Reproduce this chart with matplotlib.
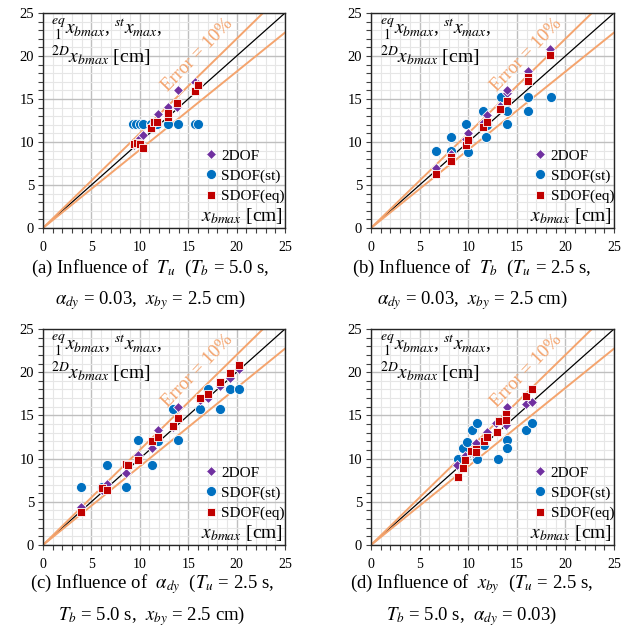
import matplotlib
matplotlib.use("Agg")
import matplotlib.pyplot as plt
from matplotlib.ticker import MultipleLocator
import numpy as np

plt.rcParams['font.family'] = ['Liberation Serif', 'DejaVu Serif']
plt.rcParams['mathtext.fontset'] = 'stix'

# ---------------- data ----------------
# Panel (a): influence of T_u
a_2dof_x = [9.35, 9.7, 10.03, 10.38, 11.16, 11.5, 11.9, 12.95, 13.8, 13.97, 15.68, 16.03]
a_2dof_y = [9.65, 10.04, 10.43, 10.81, 11.9, 12.2, 13.3, 14.1, 14.1, 16.0, 17.0, 16.8]
a_st_x = [9.28, 9.62, 10.03, 10.38, 11.16, 11.82, 12.95, 13.97, 15.68, 16.03]
a_st_y = [12.1, 12.1, 12.1, 12.1, 12.1, 12.1, 12.1, 12.1, 12.1, 12.1]
a_eq_x = [9.35, 9.7, 10.03, 10.38, 11.16, 11.5, 11.82, 12.95, 12.95, 13.87, 15.68, 16.03]
a_eq_y = [9.77, 9.92, 9.77, 9.34, 11.67, 12.36, 12.36, 12.87, 13.41, 14.57, 15.97, 16.63]

# Panel (b): influence of T_b
b_2dof_x = [6.66, 8.23, 9.74, 10.01, 11.52, 11.97, 13.31, 13.96, 13.96, 16.12, 16.12, 18.41]
b_2dof_y = [7.02, 8.6, 10.3, 11.0, 12.2, 13.14, 14.2, 15.66, 16.05, 17.98, 18.3, 20.78]
b_st_x = [6.66, 8.23, 8.23, 9.74, 10.0, 10.0, 11.52, 11.8, 11.9, 13.38, 13.96, 13.96, 16.12, 16.12, 18.52]
b_st_y = [8.95, 10.54, 8.95, 12.09, 10.23, 8.88, 13.64, 10.54, 11.98, 15.19, 13.64, 12.09, 15.19, 13.64, 15.19]
b_eq_x = [6.66, 8.23, 8.23, 9.74, 10.01, 11.52, 11.93, 13.31, 13.96, 16.15, 16.15, 18.41]
b_eq_y = [6.24, 8.29, 7.83, 9.65, 10.23, 11.7, 12.36, 13.88, 14.77, 17.52, 17.09, 20.1]

# Panel (c): influence of alpha_dy
c_2dof_x = [3.93, 6.07, 6.58, 8.58, 9.86, 11.23, 11.92, 13.47, 13.99, 16.23, 17.02, 18.29, 19.33, 20.29]
c_2dof_y = [4.36, 6.4, 7.06, 8.37, 10.42, 11.19, 13.31, 13.6, 15.93, 16.78, 16.97, 18.4, 19.29, 20.33]
c_st_x = [3.93, 6.07, 6.58, 8.58, 9.86, 11.23, 11.92, 13.47, 13.99, 16.23, 17.02, 18.29, 19.33, 20.29]
c_st_y = [6.75, 6.75, 9.26, 6.75, 12.15, 9.26, 12.08, 15.7, 12.15, 15.7, 18.02, 15.7, 18.02, 18.02]
c_eq_x = [3.93, 6.07, 6.58, 8.58, 8.82, 9.86, 11.23, 11.92, 13.47, 13.99, 16.23, 17.02, 18.29, 19.33, 20.29]
c_eq_y = [3.86, 6.56, 6.37, 9.37, 9.26, 9.84, 12.08, 12.46, 13.77, 14.66, 16.97, 17.47, 18.9, 19.94, 20.83]

# Panel (d): influence of x_by
d_2dof_x = [8.88, 9.67, 10.5, 10.8, 11.9, 12.86, 13.9, 13.96, 15.95, 16.53]
d_2dof_y = [9.26, 10.3, 10.6, 11.77, 13.11, 14.08, 13.9, 16.0, 16.32, 16.59]
d_st_x = [8.99, 9.43, 9.84, 10.36, 10.87, 10.94, 11.66, 13.1, 13.96, 13.96, 15.95, 16.53]
d_st_y = [9.95, 11.19, 11.96, 13.31, 14.08, 9.92, 11.57, 9.92, 12.15, 11.19, 13.31, 14.08]
d_eq_x = [8.99, 9.43, 9.67, 10.25, 10.77, 10.8, 11.66, 11.9, 13.0, 13.2, 13.9, 13.94, 15.95, 16.53]
d_eq_y = [7.83, 8.95, 9.84, 10.92, 11.07, 10.8, 12.04, 12.46, 13.11, 14.39, 15.16, 14.5, 17.24, 18.01]

panels = [
    (a_2dof_x, a_2dof_y, a_st_x, a_st_y, a_eq_x, a_eq_y),
    (b_2dof_x, b_2dof_y, b_st_x, b_st_y, b_eq_x, b_eq_y),
    (c_2dof_x, c_2dof_y, c_st_x, c_st_y, c_eq_x, c_eq_y),
    (d_2dof_x, d_2dof_y, d_st_x, d_st_y, d_eq_x, d_eq_y),
]

captions = [
    ("(a) Influence of  $T_u$  ($T_b$ = 5.0 s,", r"$\alpha_{dy}$ = 0.03,  $x_{by}$ = 2.5 cm)"),
    ("(b) Influence of  $T_b$  ($T_u$ = 2.5 s,", r"$\alpha_{dy}$ = 0.03,  $x_{by}$ = 2.5 cm)"),
    (r"(c) Influence of  $\alpha_{dy}$  ($T_u$ = 2.5 s,", "$T_b$ = 5.0 s,  $x_{by}$ = 2.5 cm)"),
    ("(d) Influence of  $x_{by}$  ($T_u$ = 2.5 s,", r"$T_b$ = 5.0 s,  $\alpha_{dy}$ = 0.03)"),
]

series_labels = ["2DOF", "SDOF(st)", "SDOF(eq)"]
err_ratio = 1.1

# ---------------- layout ----------------
W, H = 635, 636
fig = plt.figure(figsize=(W / 100, H / 100), dpi=100)

ax_rects = [
    (43, 13, 242, 215), (371, 13, 243, 215),
    (43, 329, 242, 216), (371, 329, 243, 216),
]
caption_pos = [(150, 268, 300), (472, 268, 300), (152, 584, 616), (472, 584, 616)]

purple = "#7030A0"
blue = "#0070C0"
red = "#C00000"
orange = "#F4A46E"

for i, (x2, y2, xs, ys, xe, ye) in enumerate(panels):
    l, t, w, h = ax_rects[i]
    ax = fig.add_axes([l / W, 1 - (t + h) / H, w / W, h / H])
    ax.set_xlim(0, 25)
    ax.set_ylim(0, 25)
    ax.xaxis.set_major_locator(MultipleLocator(5))
    ax.yaxis.set_major_locator(MultipleLocator(5))
    ax.xaxis.set_minor_locator(MultipleLocator(1))
    ax.yaxis.set_minor_locator(MultipleLocator(1))
    ax.grid(which='minor', color='#E6E6E6', lw=0.8, zorder=0)
    ax.grid(which='major', color='#BFBFBF', lw=1.0, zorder=0)
    ax.set_axisbelow(True)
    ax.tick_params(axis='both', which='both', direction='out', length=3.5,
                   width=0.8, color='#404040')
    ax.tick_params(axis='x', labelsize=10, pad=6)
    ax.tick_params(axis='y', labelsize=10.5, pad=3)
    for s in ax.spines.values():
        s.set_color('#262626')
        s.set_linewidth(1.0)

    ref = np.array([0, 25.0])
    ax.plot(ref, ref, color='black', lw=0.9, zorder=2)
    ax.plot(ref, ref * err_ratio, color=orange, lw=1.4, zorder=2)
    ax.plot(ref, ref / err_ratio, color=orange, lw=1.4, zorder=2)
    ax.text(16.0, 20.1, "Error = 10%", color=orange, fontsize=13.5,
            rotation=46, rotation_mode='anchor', ha='center', va='center', zorder=3)

    ax.plot(x2, y2, ls='none', marker='D', ms=5.2, color=purple, mec='white',
            mew=0.6, zorder=4, label=series_labels[0])
    ax.plot(xs, ys, ls='none', marker='o', ms=7.2, color=blue, mec='white',
            mew=0.6, zorder=3, label=series_labels[1])
    ax.plot(xe, ye, ls='none', marker='s', ms=6.3, color=red, mec='white',
            mew=0.6, zorder=5, label=series_labels[2])

    ax.text(0.035, 0.985,
            "${}^{eq}_{\\ 1}x_{bmax}$, ${}^{st}x_{max}$,\n${}^{2D}x_{bmax}$ [cm]",
            transform=ax.transAxes, ha='left', va='top', fontsize=14,
            linespacing=1.1, zorder=6)
    ax.text(0.99, 0.01, "$x_{bmax}$ [cm]", transform=ax.transAxes,
            ha='right', va='bottom', fontsize=14, zorder=6)

    ax.legend(loc='lower right', bbox_to_anchor=(1.0, 0.115), frameon=False,
              fontsize=11, handlelength=0.8, handletextpad=0.3,
              labelspacing=0.42, borderaxespad=0.0, borderpad=0.0)

    cx, cy1, cy2 = caption_pos[i]
    fig.text(cx / W, 1 - cy1 / H, captions[i][0], ha='center', va='center', fontsize=13.5)
    fig.text(cx / W, 1 - cy2 / H, captions[i][1], ha='center', va='center', fontsize=13.5)

fig.savefig("out.png", dpi=100, facecolor='white')
